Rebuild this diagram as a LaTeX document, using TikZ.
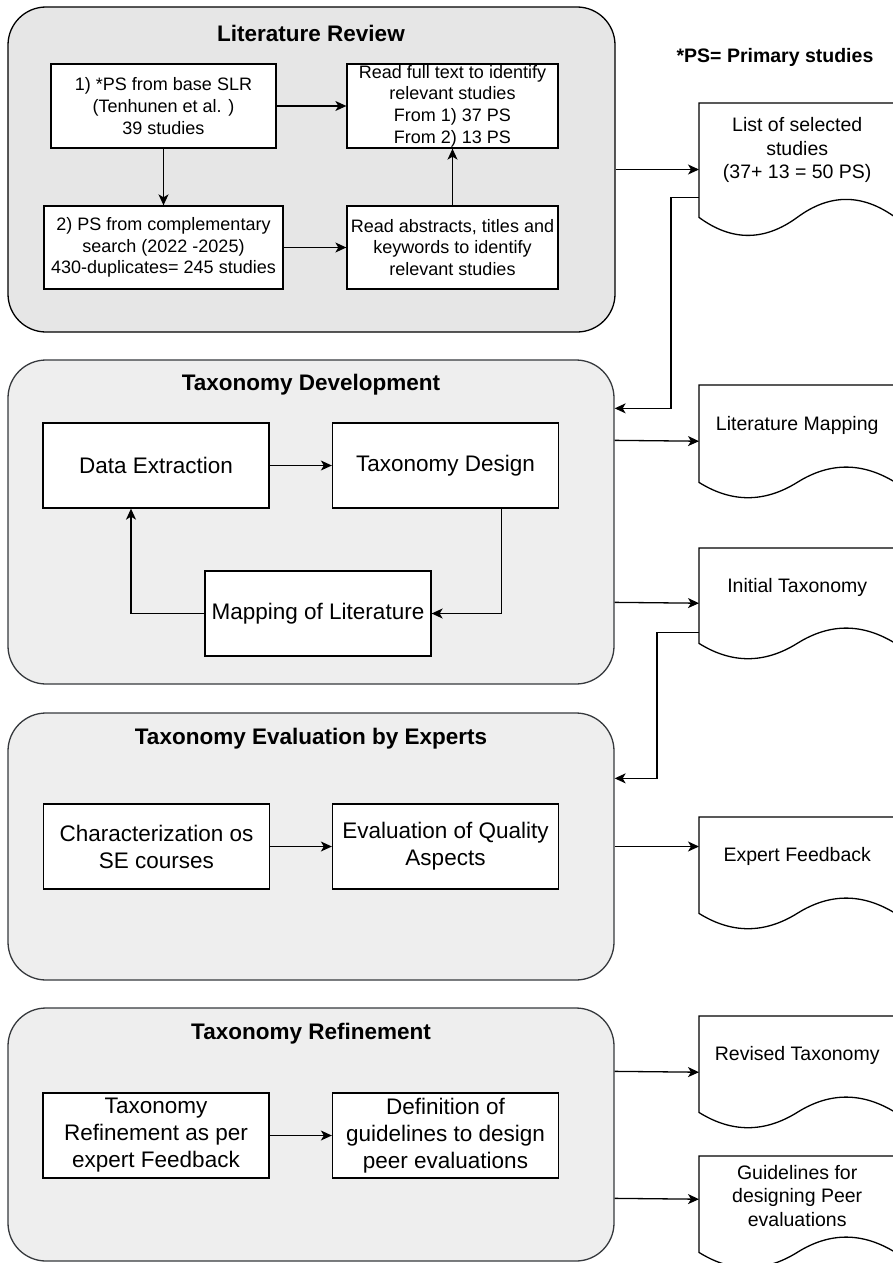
\documentclass[tikz,border=0pt]{standalone}
\usepackage{fontspec}
\setmainfont{Liberation Sans}
\definecolor{litfill}{RGB}{230, 230, 230}
\definecolor{phasefill}{RGB}{238, 238, 238}
\definecolor{phaseline}{RGB}{54, 57, 61}
\usetikzlibrary{arrows.meta, positioning, calc}

\tikzset{
  phasebox/.style={draw=phaseline, fill=phasefill, rounded corners=38pt, line width=1.3pt, inner sep=0pt},
  phasetitle/.style={font=\fontsize{22.5}{27}\selectfont\bfseries},
  stepbox/.style={draw, fill=white, line width=1.3pt, minimum width=226pt, minimum height=85pt, align=center, inner sep=1pt, font=\fontsize{22.5}{27}\selectfont},
  smallstep/.style={stepbox, font=\fontsize{18}{21.6}\selectfont},
  docbox/.style={minimum width=196pt, inner sep=0pt, align=center, anchor=north west, font=\fontsize{19.5}{23.4}\selectfont},
  docline/.style={line width=1.3pt},
  flow/.style={-{Stealth[length=11pt, width=10pt, inset=3pt]}, line width=1.3pt},
}

% document outline under a text node: #1 node, #2 wave height
\newcommand{\docwave}[2]{%
  \draw[docline] (#1.north west) -- ($(#1.south west)+(0,#2/2)$)
    .. controls ($(#1.south west)+(196/6,1.1*#2)$) and ($(#1.south west)+(196/3,1.1*#2)$) .. ($(#1.south)+(0,#2/2)$)
    .. controls ($(#1.south west)+(196*2/3,-0.1*#2)$) and ($(#1.south west)+(196*5/6,-0.1*#2)$) .. ($(#1.south east)+(0,#2/2)$)
    -- (#1.north east) -- cycle;}

\begin{document}
\begin{tikzpicture}[x=1pt, y=-1pt]
  \useasboundingbox (0,0) rectangle (893,1263);

  % Phase 1: Literature review
  \node[phasebox, draw=black, fill=litfill, minimum width=607pt, minimum height=325pt] (litrev) at (311.5,169.5) {};
  \node[phasetitle] (litrevtitle) at (311,33) {Literature Review};
  \node[smallstep, minimum width=225pt, minimum height=84pt] (ps1) at (163.5,106) {1) *PS from base SLR\\(Tenhunen et al. )\\39 studies};
  \node[smallstep, minimum width=211pt, minimum height=84pt] (fulltext) at (452.5,106) {Read full text to identify\\relevant studies\\From 1) 37 PS\\From 2) 13 PS};
  \node[smallstep, minimum width=239pt, minimum height=83pt] (ps2) at (163.5,247.5) {2) PS from complementary\\search (2022 -2025)\\430-duplicates= 245 studies};
  \node[smallstep, minimum width=211pt, minimum height=83pt] (abstracts) at (452.5,247.5) {Read abstracts, titles and\\keywords to identify\\relevant studies};
  \draw[flow] (ps1) -- (fulltext);
  \draw[flow] (ps1) -- (ps2);
  \draw[flow] (ps2) -- (abstracts);
  \draw[flow] (abstracts) -- (fulltext);

  \node[font=\fontsize{19.5}{23.4}\selectfont\bfseries] (psnote) at (775,57) {*PS= Primary studies};

  % Phase 2: Taxonomy development
  \node[phasebox, minimum width=606pt, minimum height=324pt] (taxdev) at (311,522) {};
  \node[phasetitle] (taxdevtitle) at (311,385) {Taxonomy Development};
  \node[stepbox] (dataext) at (156,465.5) {Data Extraction};
  \node[stepbox] (taxdesign) at (445.5,465.5) {Taxonomy Design};
  \node[stepbox] (mapping) at (318,613.5) {Mapping of Literature};
  \draw[flow] (dataext) -- (taxdesign);
  \draw[flow] ([xshift=56pt]taxdesign.south) |- (mapping.east);
  \draw[flow] (mapping.west) -| ([xshift=-25pt]dataext.south);

  % Phase 3: Evaluation by experts
  \node[phasebox, minimum width=606pt, minimum height=267pt] (taxeval) at (311,846.5) {};
  \node[phasetitle] (taxevaltitle) at (311,739) {Taxonomy Evaluation by Experts};
  \node[stepbox] (charact) at (156.5,846.5) {Characterization os\\SE courses};
  \node[stepbox] (evalqual) at (445.5,846.5) {Evaluation of Quality\\Aspects};
  \draw[flow] (charact) -- (evalqual);

  % Phase 4: Refinement
  \node[phasebox, minimum width=606pt, minimum height=253pt] (taxref) at (311,1134.5) {};
  \node[phasetitle] (taxreftitle) at (311,1034) {Taxonomy Refinement};
  \node[stepbox] (refine) at (156,1135.5) {Taxonomy\\Refinement as per\\expert Feedback};
  \node[stepbox] (guidedef) at (445.5,1135.5) {Definition of\\guidelines to design\\peer evaluations};
  \draw[flow] (refine) -- (guidedef);

  % Outputs (documents)
  \node[docbox, minimum height=94pt] (selected) at (699,103) {List of selected\\studies\\(37+ 13 = 50 PS)};
  \docwave{selected}{40}
  \node[docbox, minimum height=80pt] (litmap) at (699,385) {Literature Mapping};
  \docwave{litmap}{34}
  \node[docbox, minimum height=78pt] (initial) at (699,548) {Initial Taxonomy};
  \docwave{initial}{34}
  \node[docbox, minimum height=79pt] (expert) at (699,817) {Expert Feedback};
  \docwave{expert}{34}
  \node[docbox, minimum height=79pt] (revised) at (699,1016) {Revised Taxonomy};
  \docwave{revised}{34}
  \node[docbox, minimum height=79pt] (guide) at (699,1156) {Guidelines for\\designing Peer\\evaluations};
  \docwave{guide}{34}

  % Connectors between phases and outputs
  \draw[flow] (litrev.east) -- (litrev.east -| selected.west);
  \draw[flow] (selected.south west) -- ++(-28,0) |- ([yshift=-49pt]taxdev.north east);
  \draw[flow] ([yshift=-81pt]taxdev.north east) -- ([yshift=-16pt]litmap.west);
  \draw[flow] ([yshift=-243pt]taxdev.north east) -- ([yshift=-16pt]initial.west);
  \draw[flow] ([yshift=-6pt]initial.south west) -- ++(-42,0) |- ([yshift=-66pt]taxeval.north east);
  \draw[flow] (taxeval.east) -- (taxeval.east -| expert.west);
  \draw[flow] ([yshift=-64pt]taxref.north east) -- ([yshift=-16.5pt]revised.west);
  \draw[flow] ([yshift=-191pt]taxref.north east) -- ([yshift=-3.5pt]guide.west);
\end{tikzpicture}
\end{document}
